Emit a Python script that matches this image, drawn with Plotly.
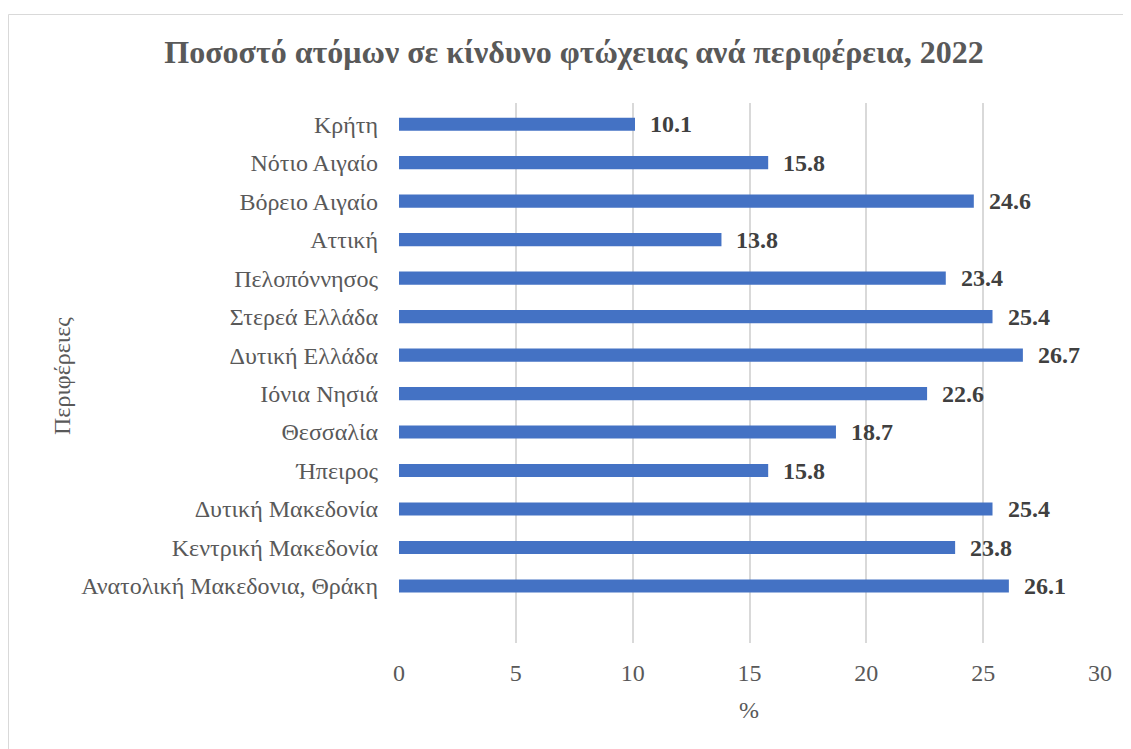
import plotly.graph_objects as go

regions = [
    "Ανατολική Μακεδονια, Θράκη",
    "Κεντρική Μακεδονία",
    "Δυτική Μακεδονία",
    "Ήπειρος",
    "Θεσσαλία",
    "Ιόνια Νησιά",
    "Δυτική Ελλάδα",
    "Στερεά Ελλάδα",
    "Πελοπόννησος",
    "Αττική",
    "Βόρειο Αιγαίο",
    "Νότιο Αιγαίο",
    "Κρήτη",
]
values = [26.1, 23.8, 25.4, 15.8, 18.7, 22.6, 26.7, 25.4, 23.4, 13.8, 24.6, 15.8, 10.1]
x_ticks = [0, 5, 10, 15, 20, 25, 30]

title_text = "Ποσοστό ατόμων σε κίνδυνο φτώχειας ανά περιφέρεια, 2022"
y_title = "Περιφέρειες"
x_title = "%"

SERIF = "Liberation Serif"

OFF = 8  # page body margin
W, H = 1131 - OFF, 749 - OFF
L, R, T, B = 399 - OFF, 1100 - OFF, 103 - OFF, 643 - OFF
pw, ph = R - L, B - T

fig = go.Figure()
fig.add_trace(go.Bar(
    x=values, y=regions, orientation="h",
    marker=dict(color="#4472C4", line=dict(width=0)),
    width=0.34,
    hoverinfo="x+y",
))

annotations = []
for r, v in zip(regions, values):
    annotations.append(dict(
        x=v, y=r, xref="x", yref="y", text=f"<b>{v:.1f}</b>",
        showarrow=False, xanchor="left", yanchor="middle", xshift=13,
        font=dict(family=SERIF, size=24, color="#404040"),
    ))
annotations.append(dict(
    x=(62 - OFF - L) / pw, y=(B - (376 - OFF)) / ph, xref="paper", yref="paper",
    text=y_title, textangle=-90, showarrow=False,
    xanchor="center", yanchor="middle",
    font=dict(family=SERIF, size=24, color="#595959"),
))
annotations.append(dict(
    x=(749 - OFF - L) / pw, y=(B - (710 - OFF)) / ph, xref="paper", yref="paper",
    text=x_title, showarrow=False, xanchor="center", yanchor="middle",
    font=dict(family=SERIF, size=24, color="#595959"),
))

fig.update_layout(
    width=W, height=H,
    margin=dict(l=L, r=W - R, t=T, b=H - B, pad=0),
    paper_bgcolor="white", plot_bgcolor="white",
    showlegend=False,
    font=dict(family=SERIF),
    title=dict(
        text=f"<b>{title_text}</b>", x=(574 - OFF) / W, xanchor="center",
        y=1 - (52 - OFF) / H, yanchor="middle",
        font=dict(family=SERIF, size=32, color="#595959"),
    ),
    xaxis=dict(
        range=[0, 30], tickvals=x_ticks, showgrid=True, gridcolor="#d9d9d9", gridwidth=1.5,
        zeroline=False, showline=False, ticks="",
        tickfont=dict(family=SERIF, size=24, color="#595959"),
        ticklabelstandoff=13,
    ),
    yaxis=dict(
        type="category", categoryorder="array", categoryarray=regions,
        range=[-1.48, 12.55], showgrid=False, zeroline=False, showline=False, ticks="",
        tickfont=dict(family=SERIF, size=24, color="#595959"),
        ticklabelstandoff=20,
    ),
    annotations=annotations,
    shapes=[dict(
        type="rect", xref="paper", yref="paper",
        x0=(0.5 - L) / pw, x1=(1130.5 - OFF - L) / pw,
        y0=(B - 770) / ph, y1=(B - (14.5 - OFF)) / ph,
        line=dict(color="#d9d9d9", width=1), fillcolor="rgba(0,0,0,0)", layer="below",
    )],
)

fig.write_html("out.html")
